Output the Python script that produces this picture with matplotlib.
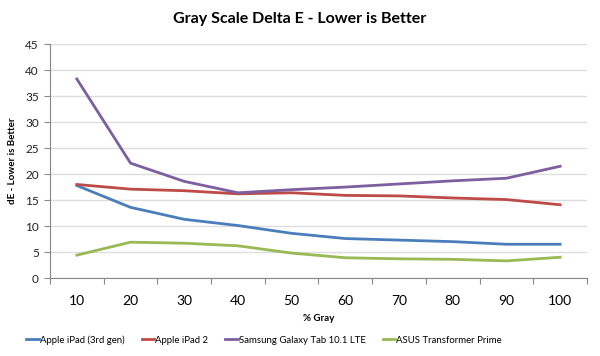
import numpy as np
import matplotlib.pyplot as plt

plt.rcParams['font.family'] = ['Lato', 'DejaVu Sans']

gray = [10, 20, 30, 40, 50, 60, 70, 80, 90, 100]
ipad3 = [17.8, 13.6, 11.3, 10.1, 8.6, 7.6, 7.3, 7.0, 6.5, 6.5]
ipad2 = [18.0, 17.1, 16.8, 16.2, 16.4, 15.9, 15.8, 15.4, 15.1, 14.1]
galaxy = [38.3, 22.1, 18.6, 16.4, 17.0, 17.5, 18.1, 18.7, 19.2, 21.5]
prime = [4.4, 6.9, 6.7, 6.2, 4.8, 3.9, 3.7, 3.6, 3.3, 4.0]

names = ['Apple iPad (3rd gen)', 'Apple iPad 2', 'Samsung Galaxy Tab 10.1 LTE', 'ASUS Transformer Prime']
colors = ['#4A7EBB', '#BE4B48', '#7D5FA0', '#98B954']

fig = plt.figure(figsize=(6, 3.56), dpi=100)
ax = fig.add_axes([0.0833, 0.219, 0.895, 0.657])

x = np.arange(len(gray))
for vals, name, c in zip([ipad3, ipad2, galaxy, prime], names, colors):
    ax.plot(x, vals, color=c, lw=2, label=name, solid_joinstyle='round')

ax.set_xlim(-0.5, len(gray) - 0.5)
ax.set_ylim(0, 45)
ax.set_yticks(range(0, 46, 5))
ax.set_xticks(np.arange(-0.5, len(gray)), [''] * (len(gray) + 1))
ax.set_xticks(x, [str(g) for g in gray], minor=True)
ax.tick_params(axis='x', which='major', length=4, color='#888888')
ax.tick_params(axis='x', which='minor', length=0, pad=12)
ax.tick_params(axis='y', length=4, color='#888888', pad=4)
ax.tick_params(labelsize=8.5, labelcolor='#222222')
ax.grid(axis='y', color='#dddddd', lw=1)
ax.set_axisbelow(True)
for s in ['top', 'right']:
    ax.spines[s].set_visible(False)
for s in ['left', 'bottom']:
    ax.spines[s].set_color('#888888')

ax.set_xlabel('% Gray', fontsize=7, fontweight='bold', labelpad=5)
ax.set_ylabel('dE - Lower is Better', fontsize=7, fontweight='bold', labelpad=6)
fig.suptitle('Gray Scale Delta E - Lower is Better', fontsize=11.5, fontweight='bold', y=0.965)

fig.legend(loc='center', bbox_to_anchor=(0.44, 0.045), ncol=4, frameon=False, fontsize=6.9,
           handlelength=1.3, handletextpad=0.1, columnspacing=1.8)

fig.savefig('out.png', dpi=100)
